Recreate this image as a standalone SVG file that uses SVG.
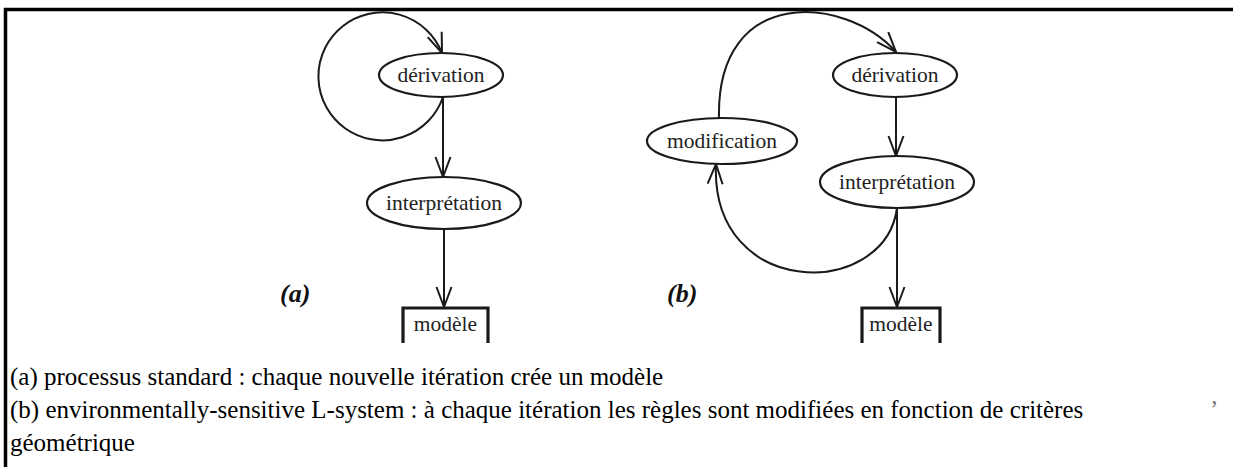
<svg xmlns="http://www.w3.org/2000/svg" width="1233" height="467" viewBox="0 0 1233 467">
<style>
.bg{fill:#ffffff}
.frame{fill:none;stroke:#000;stroke-width:3.5}
.node{fill:#ffffff;stroke:#1a1a1a;stroke-width:2.2}
.box{fill:none;stroke:#1a1a1a;stroke-width:3.2}
.lbl{font-family:'Liberation Serif','Times New Roman',serif;font-size:21.5px;fill:#222;text-anchor:middle}
.tag{font-family:'Liberation Serif','Times New Roman',serif;font-size:26px;font-weight:bold;font-style:italic;fill:#111}
.cap{font-family:'Liberation Serif','Times New Roman',serif;font-size:25px;fill:#000}
.edge{fill:none;stroke:#1a1a1a;stroke-width:2}
</style>
<defs>
<marker id="v" markerUnits="userSpaceOnUse" markerWidth="30" markerHeight="30" refX="0" refY="0" orient="auto" overflow="visible">
<path d="M -20 -7.5 L 0 0 L -20 7.5" fill="none" stroke="#1a1a1a" stroke-width="2"/>
</marker>
</defs>
<rect class="bg" x="0" y="0" width="1233" height="467"/>
<path class="frame" d="M 5.5 467 L 5.5 9.5 L 1233 9.5"/>

<g id="connectors">
<path class="edge" d="M 443 97 A 64 64 0 1 1 442 53" marker-end="url(#v)"/>
<path class="edge" d="M 443 97 L 443 177" marker-end="url(#v)"/>
<path class="edge" d="M 444 229 L 444 307" marker-end="url(#v)"/>
<path class="edge" d="M 719 118 C 716 -15 845 -5 896 52" marker-end="url(#v)"/>
<path class="edge" d="M 896 97 L 896 156" marker-end="url(#v)"/>
<path class="edge" d="M 897 208 L 897 307" marker-end="url(#v)"/>
<path class="edge" d="M 897 208 C 885 300 710 300 716 164" marker-end="url(#v)"/>
</g>

<g id="a-derivation">
<ellipse class="node" cx="441" cy="75" rx="62" ry="22"/>
<text class="lbl" x="441" y="82">dérivation</text>
</g>
<g id="a-interpretation">
<ellipse class="node" cx="444" cy="203" rx="77" ry="26"/>
<text class="lbl" x="444" y="210">interprétation</text>
</g>
<g id="a-modele">
<path class="box" d="M 403 343 L 403 308 L 488 308 L 488 343"/>
<text class="lbl" x="445.5" y="331">modèle</text>
</g>
<g id="a-label">
<text class="tag" x="280" y="302">(a)</text>
</g>

<g id="b-derivation">
<ellipse class="node" cx="895" cy="75" rx="62" ry="22"/>
<text class="lbl" x="895" y="82">dérivation</text>
</g>
<g id="b-interpretation">
<ellipse class="node" cx="897" cy="182" rx="77" ry="26"/>
<text class="lbl" x="897" y="189">interprétation</text>
</g>
<g id="b-modification">
<ellipse class="node" cx="722" cy="141" rx="75" ry="23"/>
<text class="lbl" x="722" y="148">modification</text>
</g>
<g id="b-modele">
<path class="box" d="M 862 343 L 862 308 L 940 308 L 940 343"/>
<text class="lbl" x="901" y="331">modèle</text>
</g>
<g id="b-label">
<text class="tag" x="667" y="302">(b)</text>
</g>

<g id="caption">
<text class="cap" x="10" y="385">(a) processus standard : chaque nouvelle itération crée un modèle</text>
<text class="cap" x="10" y="418">(b) environmentally-sensitive L-system : à chaque itération les règles sont modifiées en fonction de critères</text>
<text class="cap" x="1210" y="418" style="fill:#777">’</text>
<text class="cap" x="10" y="451">géométrique</text>
</g>
</svg>
